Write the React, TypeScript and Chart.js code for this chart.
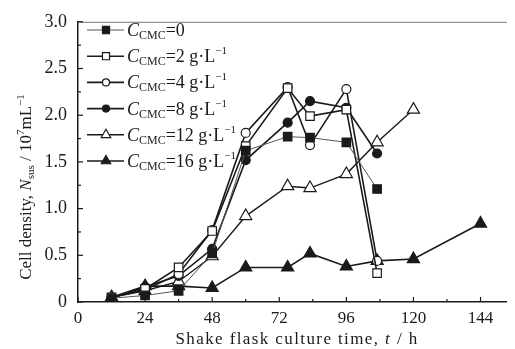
import React, { useEffect, useRef } from "react";
import { Chart, registerables } from "chart.js";

Chart.register(...registerables);

const times = [12, 24, 36, 48, 60, 75, 83, 96, 107, 120, 144];
const cmc0 = [0.04, 0.07, 0.12, 0.52, 1.62, 1.77, 1.76, 1.71, 1.21];
const cmc2 = [0.05, 0.14, 0.37, 0.76, 1.67, 2.29, 1.99, 2.06, 0.31];
const cmc4 = [0.05, 0.13, 0.3, 0.77, 1.81, 2.3, 1.68, 2.28, 0.44];
const cmc8 = [0.04, 0.16, 0.28, 0.57, 1.52, 1.92, 2.15, 2.08, 1.59];
const cmc12 = [0.05, 0.12, 0.22, 0.49, 0.92, 1.24, 1.22, 1.37, 1.71, 2.06];
const cmc16 = [0.05, 0.17, 0.17, 0.15, 0.37, 0.37, 0.52, 0.38, 0.44, 0.46, 0.84];
const legendValues = ["=0", "=2 g·L", "=4 g·L", "=8 g·L", "=12 g·L", "=16 g·L"];
const xTickValues = [0, 24, 48, 72, 96, 120, 144];

const SERIF = "'Liberation Serif', 'DejaVu Serif', serif";
const INK = "#1a1a1a";

type Style = { pointStyle: string; filled: boolean; radius: number; legendRadius: number; width: number; color: string };
const styles: Style[] = [
  { pointStyle: "rect", filled: true, radius: 6, legendRadius: 5, width: 1, color: "#555" },
  { pointStyle: "rect", filled: false, radius: 6, legendRadius: 5, width: 1.6, color: INK },
  { pointStyle: "circle", filled: false, radius: 4.5, legendRadius: 3.5, width: 1.6, color: INK },
  { pointStyle: "circle", filled: true, radius: 4.5, legendRadius: 3.5, width: 1.6, color: INK },
  { pointStyle: "triangle", filled: false, radius: 7, legendRadius: 5.5, width: 1.4, color: INK },
  { pointStyle: "triangle", filled: true, radius: 7, legendRadius: 5.5, width: 1.6, color: INK },
];
const seriesValues = [cmc0, cmc2, cmc4, cmc8, cmc12, cmc16];

type Seg = { t: string; italic?: boolean; size?: number; dy?: number };

function richWidth(ctx: CanvasRenderingContext2D, segs: Seg[], base: number) {
  let w = 0;
  for (const s of segs) {
    ctx.font = `${s.italic ? "italic " : ""}${s.size ?? base}px ${SERIF}`;
    w += ctx.measureText(s.t).width;
  }
  return w;
}
function drawRich(ctx: CanvasRenderingContext2D, x: number, y: number, segs: Seg[], base: number) {
  let cx = x;
  for (const s of segs) {
    ctx.font = `${s.italic ? "italic " : ""}${s.size ?? base}px ${SERIF}`;
    ctx.fillText(s.t, cx, y + (s.dy ?? 0));
    cx += ctx.measureText(s.t).width;
  }
}

function drawMarker(ctx: CanvasRenderingContext2D, st: Style, x: number, y: number) {
  ctx.save();
  ctx.lineWidth = 1.2;
  ctx.strokeStyle = INK;
  ctx.fillStyle = st.filled ? INK : "#fff";
  ctx.beginPath();
  const r = st.legendRadius;
  if (st.pointStyle === "rect") {
    const h = r * Math.SQRT1_2;
    ctx.rect(x - h, y - h, 2 * h, 2 * h);
  } else if (st.pointStyle === "circle") {
    ctx.arc(x, y, r, 0, Math.PI * 2);
  } else {
    ctx.moveTo(x, y - r);
    ctx.lineTo(x + r * 0.866, y + r * 0.5);
    ctx.lineTo(x - r * 0.866, y + r * 0.5);
    ctx.closePath();
  }
  ctx.fill();
  ctx.stroke();
  ctx.restore();
}

const decorPlugin = {
  id: "decor",
  afterDraw(chart: any) {
    const ctx: CanvasRenderingContext2D = chart.ctx;
    const { left, right, top, bottom } = chart.chartArea;
    const xs = chart.scales.x;
    const ys = chart.scales.y;
    ctx.save();
    ctx.strokeStyle = "#777";
    ctx.lineWidth = 1;
    ctx.beginPath();
    ctx.moveTo(left, top + 0.5);
    ctx.lineTo(right, top + 0.5);
    ctx.stroke();
    ctx.strokeStyle = INK;
    ctx.lineWidth = 1.2;
    for (let v = 0; v <= 156; v += 12) {
      const px = xs.getPixelForValue(v);
      if (px > right) break;
      const len = v % 24 === 0 ? 5 : 3;
      ctx.beginPath();
      ctx.moveTo(px, bottom);
      ctx.lineTo(px, bottom - len);
      ctx.stroke();
    }
    for (let v = 0; v <= 3.001; v += 0.25) {
      const py = ys.getPixelForValue(v);
      const len = Math.abs(v * 2 - Math.round(v * 2)) < 1e-6 ? 5 : 3;
      ctx.beginPath();
      ctx.moveTo(left, py);
      ctx.lineTo(left + len, py);
      ctx.stroke();
    }
    ctx.fillStyle = INK;
    ctx.textBaseline = "alphabetic";
    const xt: Seg[] = [
      { t: "Shake flask culture time, " },
      { t: "t", italic: true },
      { t: " / h" },
    ];
    (ctx as any).letterSpacing = "1.4px";
    const xw = richWidth(ctx, xt, 17);
    drawRich(ctx, 297 - xw / 2, 344, xt, 17);
    (ctx as any).letterSpacing = "0px";
    const yt: Seg[] = [
      { t: "Cell density, " },
      { t: "N", italic: true },
      { t: "sus", size: 11, dy: 3 },
      { t: " / 10" },
      { t: "7", size: 11, dy: -7 },
      { t: "mL" },
      { t: "−1", size: 11, dy: -7 },
    ];
    ctx.save();
    ctx.translate(31, 187);
    ctx.rotate(-Math.PI / 2);
    const yw = richWidth(ctx, yt, 17);
    drawRich(ctx, -yw / 2, 0, yt, 17);
    ctx.restore();
    for (let i = 0; i < styles.length; i++) {
      const st = styles[i];
      const ly = 30 + i * 26.2;
      ctx.strokeStyle = st.color;
      ctx.lineWidth = st.width;
      ctx.beginPath();
      ctx.moveTo(87, ly);
      ctx.lineTo(124, ly);
      ctx.stroke();
      drawMarker(ctx, st, 106, ly);
      ctx.fillStyle = INK;
      const segs: Seg[] = [
        { t: "C", italic: true, size: 18 },
        { t: "CMC", size: 12, dy: 3 },
        { t: legendValues[i], size: 18 },
      ];
      if (i > 0) segs.push({ t: "−1", size: 11, dy: -8 });
      drawRich(ctx, 127, ly + 6, segs, 18);
    }
    ctx.restore();
  },
};

export default function App() {
  const ref = useRef<HTMLCanvasElement | null>(null);
  useEffect(() => {
    if (!ref.current) return;
    const datasets = seriesValues.map((vals, i) => {
      const st = styles[i];
      return {
        label: "C" + legendValues[i],
        data: vals.map((v, j) => ({ x: times[j], y: v })),
        borderColor: st.color,
        borderWidth: st.width,
        pointStyle: st.pointStyle,
        pointRadius: st.radius,
        pointBorderWidth: 1.2,
        pointBorderColor: INK,
        pointBackgroundColor: st.filled ? INK : "#fff",
        showLine: true,
        tension: 0,
      };
    });
    const chart = new Chart(ref.current, {
      type: "scatter",
      data: { datasets } as any,
      plugins: [decorPlugin],
      options: {
        animation: false,
        responsive: false,
        layout: { padding: { top: 16, right: 0, left: 0, bottom: 0 } },
        plugins: { legend: { display: false }, tooltip: { enabled: false } },
        scales: {
          x: {
            type: "linear",
            min: 0,
            max: 153.4,
            grid: { display: false, drawTicks: false },
            border: { display: true, color: INK, width: 1.5 },
            afterBuildTicks: (s: any) => {
              s.ticks = xTickValues.map((v) => ({ value: v }));
            },
            afterFit: (s: any) => {
              s.height = 47;
            },
            ticks: {
              padding: 6,
              color: INK,
              font: { family: SERIF, size: 17 },
              maxRotation: 0,
              autoSkip: false,
            },
          },
          y: {
            min: 0,
            max: 3,
            grid: { display: false, drawTicks: false },
            border: { display: true, color: INK, width: 1.5 },
            afterFit: (s: any) => {
              s.width = 78;
            },
            ticks: {
              stepSize: 0.5,
              padding: 11,
              color: INK,
              font: { family: SERIF, size: 18 },
              callback: (v: any) => (v === 0 ? "0" : Number(v).toFixed(1)),
            },
          },
        },
      } as any,
    });
    return () => chart.destroy();
  }, []);
  return (
    <div style={{ position: "fixed", left: 0, top: 0, width: 515, height: 349, background: "#fff" }}>
      <canvas ref={ref} width={515} height={349} style={{ width: 515, height: 349 }} />
    </div>
  );
}
